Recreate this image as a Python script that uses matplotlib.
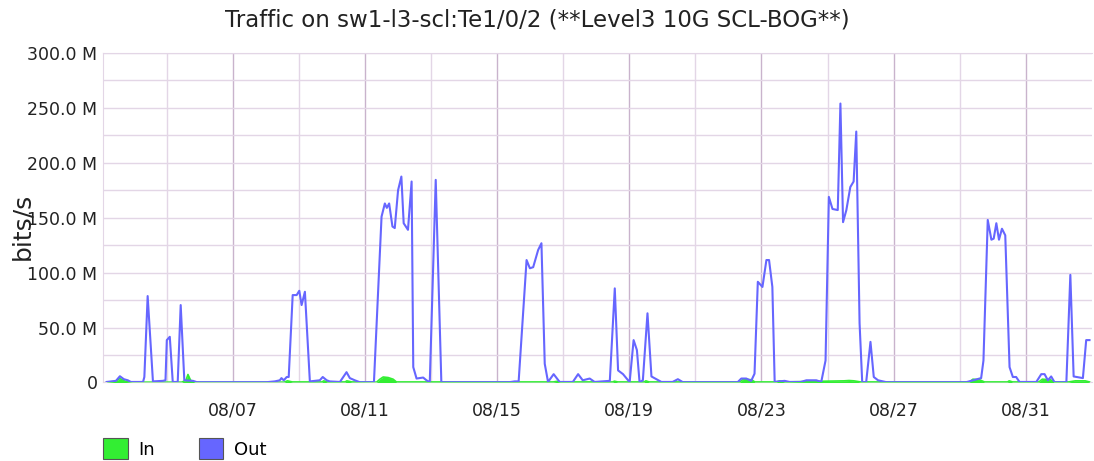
import matplotlib
matplotlib.use("Agg")
import matplotlib.pyplot as plt
from matplotlib.patches import Patch
import numpy as np

# ---- data (days since 08/03 00:00, values in Mbit/s) ----
out_days = [0.18, 0.46, 0.58, 0.70, 0.82, 0.91, 1.28, 1.32, 1.42, 1.58, 1.88, 1.96, 2.00, 2.09,
            2.18, 2.33, 2.42, 2.53, 2.79, 2.91, 5.03, 5.27, 5.42, 5.47, 5.54, 5.63, 5.69, 5.81,
            5.93, 6.01, 6.08, 6.18, 6.33, 6.48, 6.63, 6.72, 6.84, 6.93, 7.24, 7.44, 7.54, 7.69,
            7.84, 8.27, 8.50, 8.60, 8.66, 8.73, 8.83, 8.90, 9.00, 9.10, 9.17, 9.30, 9.41, 9.46,
            9.56, 9.66, 9.76, 9.86, 9.96, 10.14, 10.31, 12.38, 12.53, 12.65, 12.89, 12.99, 13.09,
            13.24, 13.34, 13.44, 13.54, 13.71, 13.89, 14.29, 14.45, 14.59, 14.80, 14.95, 15.41,
            15.56, 15.66, 15.81, 15.91, 16.01, 16.13, 16.23, 16.31, 16.41, 16.55, 16.67, 16.82,
            16.97, 17.31, 17.47, 17.62, 19.28, 19.39, 19.54, 19.69, 19.79, 19.89, 20.03, 20.15, 20.23,
            20.33, 20.40, 20.70, 20.85, 21.19, 21.36, 21.66, 21.81, 21.94, 22.04, 22.15, 22.31,
            22.39, 22.47, 22.57, 22.69, 22.79, 22.87, 22.97, 23.05, 23.17, 23.30, 23.40, 23.53,
            23.78, 26.20, 26.35, 26.65, 26.72, 26.85, 26.96, 27.03, 27.11, 27.19, 27.28, 27.38, 27.51,
            27.61, 27.71, 27.81, 28.32, 28.47, 28.57, 28.67, 28.77, 28.87, 29.23, 29.35, 29.45,
            29.73, 29.83, 29.93]
out_mbps = [0.5, 1.5, 5.7, 3.0, 2.0, 0.5, 0.5, 5.0, 78.7, 1.0, 1.5, 2.0, 38.6, 41.6,
            0.5, 0.5, 70.5, 2.0, 1.5, 0.3, 0.3, 1.0, 2.0, 4.0, 2.0, 5.0, 5.0, 79.6,
            79.6, 83.5, 70.5, 82.6, 1.0, 1.5, 2.0, 5.0, 2.0, 1.0, 0.5, 9.4, 4.0, 2.0,
            0.3, 0.3, 151.0, 163.0, 159.0, 163.0, 142.0, 140.6, 175.0, 187.5, 145.0, 139.0, 183.0, 14.0,
            3.6, 4.0, 4.5, 2.0, 0.3, 184.5, 0.3, 0.3, 1.0, 1.0, 111.5, 104.0, 105.0,
            120.6, 126.8, 17.0, 0.5, 7.6, 0.5, 0.5, 7.6, 2.0, 3.6, 0.5, 1.5,
            85.7, 11.0, 7.6, 4.0, 0.3, 38.6, 29.5, 0.3, 2.0, 63.0, 5.5, 3.0,
            0.5, 0.5, 3.0, 0.3, 0.3, 3.6, 3.6, 1.5, 8.0, 91.7, 87.0, 111.5, 111.5,
            87.0, 0.6, 1.5, 0.5, 0.5, 2.0, 2.0, 0.5, 20.0, 169.0, 158.0, 157.0,
            254.0, 146.0, 157.0, 178.0, 183.0, 228.5, 54.0, 0.3, 0.3, 37.0, 5.0, 2.0,
            0.3, 0.3, 1.5, 4.0, 20.0, 148.0, 130.0, 131.0, 145.0, 130.0, 140.0, 134.0, 14.0,
            5.0, 5.0, 0.5, 0.5, 7.6, 7.6, 2.0, 5.5, 0.3, 0.3, 98.0, 5.5,
            4.0, 38.6, 38.6]

in_days = [0.18, 0.45, 0.58, 0.75, 0.95, 2.45, 2.58, 2.64, 2.72, 2.85, 5.55, 5.65, 5.80,
           6.70, 6.75, 6.85, 7.40, 7.45, 7.60, 8.35, 8.45, 8.55, 8.70, 8.85, 8.95, 13.7,
           13.8, 13.9, 15.5, 15.55, 15.65, 16.45, 16.5, 16.6, 19.35, 19.45, 19.70, 19.80,
           20.45, 20.55, 20.70, 22.50, 22.65, 22.80, 23.00, 26.30, 26.40, 26.60, 26.75,
           27.45, 27.5, 27.6, 28.40, 28.50, 28.75, 28.85, 29.30, 29.50, 29.80, 29.93]
in_mbps = [0.3, 1.0, 3.6, 1.0, 0.3, 0.3, 2.0, 7.3, 2.0, 0.3, 0.3, 1.5, 0.5,
           0.5, 1.5, 0.5, 0.5, 1.5, 0.5, 0.3, 3.0, 5.0, 4.5, 3.0, 0.5, 0.5,
           1.0, 0.5, 0.5, 1.2, 0.5, 0.5, 1.5, 0.5, 0.5, 3.0, 2.5, 0.5,
           0.5, 1.5, 0.5, 1.5, 1.8, 1.5, 0.5, 0.5, 3.0, 2.5, 0.5,
           0.5, 1.5, 0.5, 0.5, 3.0, 2.5, 0.5, 0.5, 1.5, 1.5, 0.5]

tick_days = [4, 8, 12, 16, 20, 24, 28]
tick_labels = ["08/07", "08/11", "08/15", "08/19", "08/23", "08/27", "08/31"]
minor_days = [2, 6, 10, 14, 18, 22, 26]
y_ticks = [0, 50, 100, 150, 200, 250, 300]
y_labels = ["0", "50.0 M", "100.0 M", "150.0 M", "200.0 M", "250.0 M", "300.0 M"]
y_minor = [25, 75, 125, 175, 225, 275]

title = "Traffic on sw1-l3-scl:Te1/0/2 (**Level3 10G SCL-BOG**)"
series_names = ["In", "Out"]

# ---- styling ----
plt.rcParams["font.family"] = ["DejaVu Sans"]
GREEN = "#33ee33"
BLUE = "#6666ff"
GRID_MAJ = "#c9b3cc"
GRID_MIN = "#e3d6e6"

fig = plt.figure(figsize=(10.94, 4.61), dpi=100)
ax = fig.add_axes([0.0942, 0.1703, 0.9038, 0.7147])

ax.fill_between(in_days, in_mbps, 0, color=GREEN, lw=0, zorder=3)
ax.plot(in_days, in_mbps, color=GREEN, lw=1.2, zorder=3)
ax.plot(out_days, out_mbps, color=BLUE, lw=1.5, zorder=4)

ax.set_xlim(0.07, 30.0)
ax.set_ylim(0, 300)

ax.set_xticks(tick_days)
ax.set_xticklabels(tick_labels)
ax.set_xticks(minor_days, minor=True)
ax.set_yticks(y_ticks)
ax.set_yticklabels(y_labels)
ax.set_yticks(y_minor, minor=True)

ax.grid(True, which="major", axis="x", color=GRID_MAJ, lw=1.0, zorder=0)
ax.grid(True, which="minor", axis="x", color=GRID_MIN, lw=1.0, zorder=0)
ax.grid(True, which="both", axis="y", color=GRID_MIN, lw=1.0, zorder=0)

ax.tick_params(axis="both", which="both", length=0, labelsize=12.5, colors="#222222")
ax.tick_params(axis="x", pad=14)
ax.tick_params(axis="y", pad=4)

ax.spines["right"].set_visible(False)
ax.spines["top"].set_color(GRID_MIN)
ax.spines["left"].set_color(GRID_MIN)
ax.spines["bottom"].set_color(GRID_MIN)

fig.text(0.491, 0.956, title, ha="center", va="center", fontsize=16.5, color="#222222")
fig.text(0.020, 0.51, "bits/s", rotation=90, ha="center", va="center", fontsize=18, color="#222222")

handles = [Patch(facecolor=GREEN, edgecolor="#555555", lw=0.8),
           Patch(facecolor=BLUE, edgecolor="#555555", lw=0.8)]
fig.legend(handles, series_names, loc="center left", bbox_to_anchor=(0.0945, 0.027),
           ncol=2, frameon=False, fontsize=13, handlelength=1.35, handleheight=1.35,
           handletextpad=0.6, columnspacing=2.4, borderpad=0, borderaxespad=0)

fig.savefig("out.png", dpi=100)
